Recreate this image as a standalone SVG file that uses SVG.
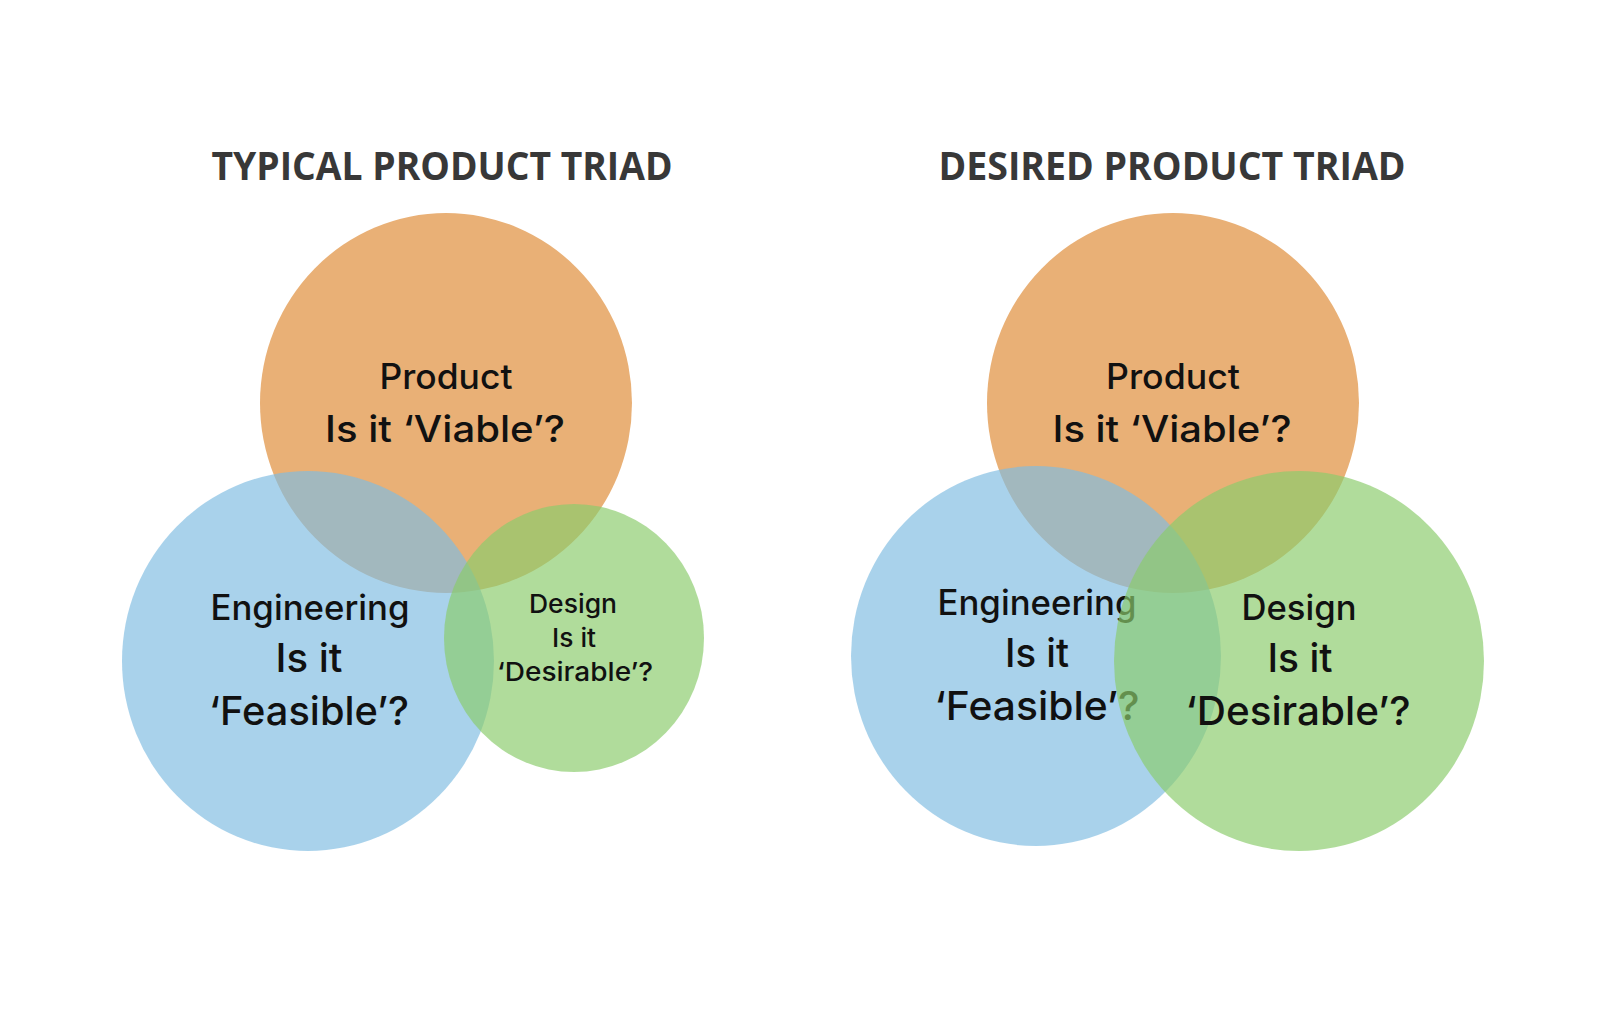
<svg xmlns="http://www.w3.org/2000/svg" width="1614" height="1028" viewBox="0 0 1614 1028">
  <style>
    .title { font-family: "Open Sans", "Liberation Sans", sans-serif; font-weight: 700; font-size: 40px; fill: #383838; text-anchor: middle; }
    .lbl { font-family: Inter, "Noto Sans", "Liberation Sans", sans-serif; font-weight: 500; fill: #111111; text-anchor: middle; }
    .orange { fill: #E9B076; }
    .blue { fill: #7FBCE1; fill-opacity: 0.67; }
    .green { fill: #8ACC6B; fill-opacity: 0.68; }
  </style>
  <rect x="0" y="0" width="1614" height="1028" fill="#ffffff"/>

  <g id="title-typical">
    <text class="title" x="442" y="180" textLength="461" lengthAdjust="spacingAndGlyphs">TYPICAL PRODUCT TRIAD</text>
  </g>
  <g id="title-desired">
    <text class="title" x="1172" y="180" textLength="467" lengthAdjust="spacingAndGlyphs">DESIRED PRODUCT TRIAD</text>
  </g>

  <!-- Typical triad -->
  <g id="typical-product">
    <ellipse class="orange" cx="446" cy="403" rx="186" ry="190"/>
    <text class="lbl" x="446" y="389" font-size="35" textLength="133" lengthAdjust="spacingAndGlyphs">Product</text>
    <text class="lbl" x="445" y="442" font-size="37" textLength="240" lengthAdjust="spacingAndGlyphs">Is it ‘Viable’?</text>
  </g>
  <g id="typical-engineering">
    <ellipse class="blue" cx="308" cy="661" rx="186" ry="190"/>
    <text class="lbl" x="310" y="620" font-size="35" textLength="199" lengthAdjust="spacingAndGlyphs">Engineering</text>
    <text class="lbl" x="309" y="672" font-size="40" textLength="67" lengthAdjust="spacingAndGlyphs">Is it</text>
    <text class="lbl" x="309" y="725" font-size="40" textLength="200" lengthAdjust="spacingAndGlyphs">‘Feasible’?</text>
  </g>
  <g id="typical-design">
    <ellipse class="green" cx="574" cy="638" rx="130" ry="134"/>
    <text class="lbl" x="573" y="613" font-size="26" textLength="88" lengthAdjust="spacingAndGlyphs">Design</text>
    <text class="lbl" x="574" y="647" font-size="26" textLength="44" lengthAdjust="spacingAndGlyphs">Is it</text>
    <text class="lbl" x="575" y="681" font-size="26" textLength="156" lengthAdjust="spacingAndGlyphs">‘Desirable’?</text>
  </g>

  <!-- Desired triad -->
  <g id="desired-product">
    <ellipse class="orange" cx="1173" cy="403" rx="186" ry="190"/>
    <text class="lbl" x="1173" y="389" font-size="35" textLength="134" lengthAdjust="spacingAndGlyphs">Product</text>
    <text class="lbl" x="1172" y="442" font-size="37" textLength="239" lengthAdjust="spacingAndGlyphs">Is it ‘Viable’?</text>
  </g>
  <g id="desired-engineering">
    <ellipse class="blue" cx="1036" cy="656" rx="185" ry="190"/>
    <text class="lbl" x="1037" y="615" font-size="35" textLength="199" lengthAdjust="spacingAndGlyphs">Engineering</text>
    <text class="lbl" x="1037" y="667" font-size="40" textLength="64" lengthAdjust="spacingAndGlyphs">Is it</text>
    <text class="lbl" x="1037" y="720" font-size="40" textLength="205" lengthAdjust="spacingAndGlyphs">‘Feasible’?</text>
  </g>
  <g id="desired-design">
    <ellipse class="green" cx="1299" cy="661" rx="185" ry="190"/>
    <text class="lbl" x="1299" y="620" font-size="35" textLength="115" lengthAdjust="spacingAndGlyphs">Design</text>
    <text class="lbl" x="1300" y="672" font-size="40" textLength="65" lengthAdjust="spacingAndGlyphs">Is it</text>
    <text class="lbl" x="1298" y="725" font-size="40" textLength="225" lengthAdjust="spacingAndGlyphs">‘Desirable’?</text>
  </g>
</svg>
